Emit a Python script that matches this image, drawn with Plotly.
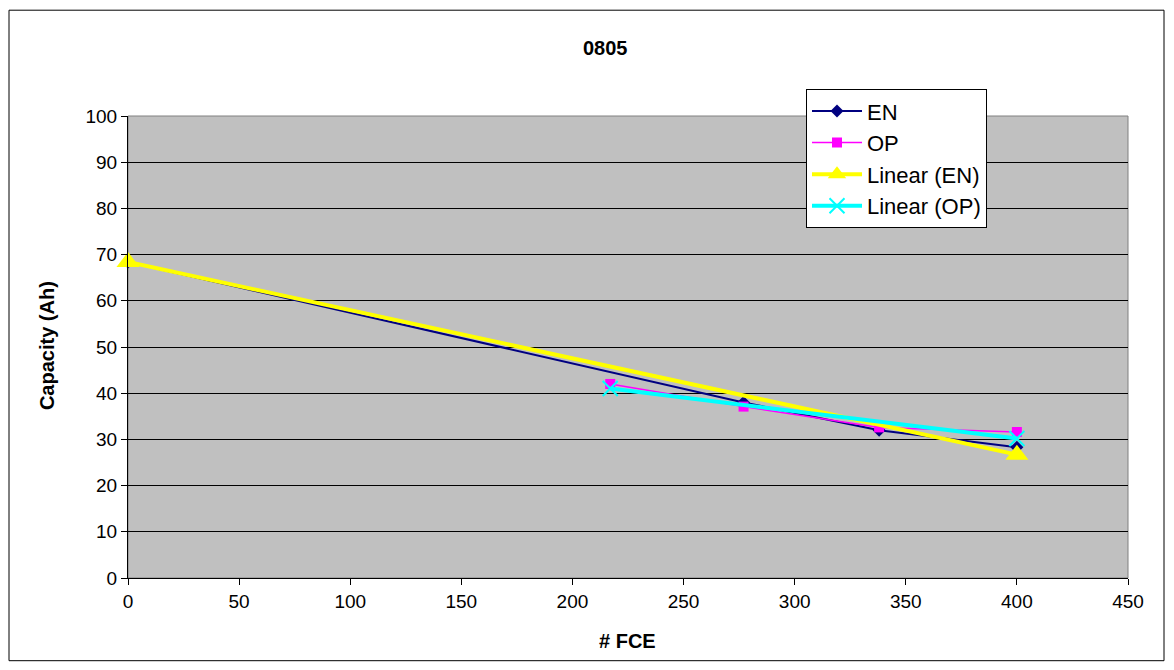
import plotly.graph_objects as go

# Data
en_x = [0, 277, 338, 400]
en_y = [68.4, 38.0, 32.0, 28.3]
op_x = [217, 277, 338, 400]
op_y = [42.0, 37.1, 32.6, 31.6]
lin_en_x = [0, 400]
lin_en_y = [68.4, 26.7]
lin_op_x = [217, 400]
lin_op_y = [41.0, 30.2]

x_ticks = [0, 50, 100, 150, 200, 250, 300, 350, 400, 450]
y_ticks = [0, 10, 20, 30, 40, 50, 60, 70, 80, 90, 100]

FONT = "Liberation Sans, Arial, sans-serif"

fig = go.Figure()
fig.add_trace(go.Scatter(x=en_x, y=en_y, name="EN", mode="lines+markers",
                         line=dict(color="#000080", width=2),
                         marker=dict(symbol="diamond", size=10, color="#000080"),
                         legendgroup="a", cliponaxis=False))
fig.add_trace(go.Scatter(x=op_x, y=op_y, name="OP", mode="lines+markers",
                         line=dict(color="#FF00FF", width=1.5),
                         marker=dict(symbol="square", size=10, color="#FF00FF"),
                         legendgroup="b", cliponaxis=False))
fig.add_trace(go.Scatter(x=lin_en_x, y=lin_en_y, name="Linear (EN)", mode="lines+markers",
                         line=dict(color="#FFFF00", width=4),
                         marker=dict(symbol="triangle-up", size=20, color="#FFFF00"),
                         legendgroup="c", cliponaxis=False))
fig.add_trace(go.Scatter(x=lin_op_x, y=lin_op_y, name="Linear (OP)", mode="lines+markers",
                         line=dict(color="#00FFFF", width=4),
                         marker=dict(symbol="x-thin", size=15, color="#00FFFF",
                                     line=dict(color="#00FFFF", width=2)),
                         legendgroup="d", cliponaxis=False))

fig.update_layout(
    width=1166, height=662,
    margin=dict(l=120, r=46, t=108, b=92),
    paper_bgcolor="white",
    plot_bgcolor="#C0C0C0",
    font=dict(family=FONT, size=19, color="black"),
    showlegend=True,
    legend=dict(x=0.678, y=1.058, xanchor="left", yanchor="top",
                bgcolor="white", bordercolor="black", borderwidth=1,
                font=dict(size=22), tracegroupgap=0, itemwidth=50),
    xaxis=dict(range=[0, 450], tickvals=x_ticks, showgrid=False, zeroline=False,
               showline=True, linecolor="black", linewidth=1,
               ticks="outside", ticklen=6, tickcolor="black",
               tickfont=dict(size=19)),
    yaxis=dict(range=[0, 100], tickvals=y_ticks, showgrid=True, gridcolor="black",
               gridwidth=1, zeroline=False,
               showline=True, linecolor="black", linewidth=1,
               ticks="outside", ticklen=6, tickcolor="black",
               tickfont=dict(size=19)),
    shapes=[
        dict(type="rect", xref="paper", yref="paper", x0=0, x1=1, y0=0, y1=1,
             line=dict(color="#808080", width=1), fillcolor="rgba(0,0,0,0)", layer="below"),
        dict(type="rect", xref="paper", yref="paper", x0=-0.119, x1=1.036,
             y0=-0.179, y1=1.229, line=dict(color="black", width=1),
             fillcolor="rgba(0,0,0,0)"),
    ],
    annotations=[
        dict(text="<b>0805</b>", xref="paper", yref="paper", x=0.477, y=1.147,
             showarrow=False, font=dict(size=20), xanchor="center", yanchor="middle"),
        dict(text="<b># FCE</b>", xref="paper", yref="paper", x=0.499, y=-0.136,
             showarrow=False, font=dict(size=20), xanchor="center", yanchor="middle"),
        dict(text="<b>Capacity (Ah)</b>", xref="paper", yref="paper", x=-0.081, y=0.502,
             showarrow=False, font=dict(size=20), textangle=-90,
             xanchor="center", yanchor="middle"),
    ],
)

fig.write_html("out.html")
